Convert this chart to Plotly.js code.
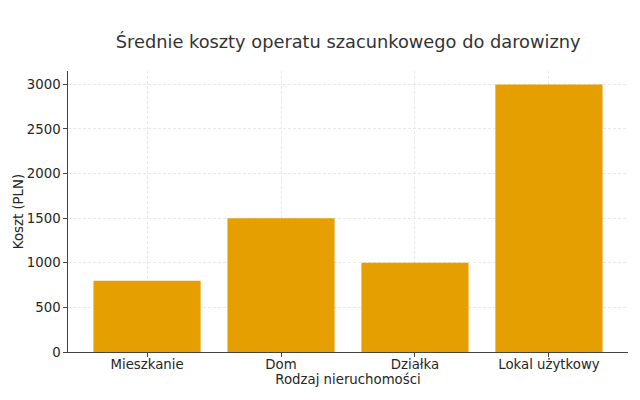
<!DOCTYPE html>
<html><head><meta charset="utf-8">
<script src="https://cdn.plot.ly/plotly-3.0.1.min.js"></script>
<style>html,body{margin:0;padding:0;background:#fff}#chart{width:640px;height:400px}</style>
</head><body><div id="chart"></div>
<script>
const categories = ["Mieszkanie", "Dom", "Działka", "Lokal użytkowy"];
const costs = [800, 1500, 1000, 3000];
const yTicks = [0, 500, 1000, 1500, 2000, 2500, 3000];

const trace = {
  type: "bar",
  x: categories.map((c, i) => i),
  y: costs,
  width: 0.8,
  marker: { color: "#E69F00", line: { width: 0 } },
  hoverinfo: "skip"
};

const layout = {
  width: 640, height: 400,
  paper_bgcolor: "#fff", plot_bgcolor: "#fff",
  margin: { l: 68, r: 12, t: 71, b: 48 },
  font: { family: "DejaVu Sans", size: 13.3, color: "#262626" },
  title: { text: "Średnie koszty operatu szacunkowego do darowizny",
           font: { size: 17.8, color: "#333" }, x: 0.544, xanchor: "center", y: 0.895, yanchor: "middle" },
  xaxis: {
    range: [-0.59, 3.59],
    tickvals: [0, 1, 2, 3], ticktext: categories,
    showline: true, linecolor: "#444", linewidth: 1.2,
    ticks: "outside", ticklen: 3.5, tickcolor: "#444",
    ticklabelstandoff: -4,
    showgrid: true, gridcolor: "#e2e2e2", griddash: "3px,2px", gridwidth: 0.8,
    layer: "above traces",
    zeroline: false,
    title: { text: "Rodzaj nieruchomości", standoff: 4, font: { size: 13.3 } }
  },
  yaxis: {
    range: [0, 3150],
    tickvals: yTicks,
    showline: true, linecolor: "#444", linewidth: 1.2,
    ticks: "outside", ticklen: 3.5, tickcolor: "#444",
    showgrid: true, gridcolor: "#e2e2e2", griddash: "3px,2px", gridwidth: 0.8,
    layer: "above traces",
    zeroline: false,
    automargin: false,
    title: { text: "Koszt (PLN)", standoff: 0, font: { size: 13.3 } }
  },
  showlegend: false
};

Plotly.newPlot("chart", [trace], layout, { staticPlot: true, displayModeBar: false });
</script></body></html>
